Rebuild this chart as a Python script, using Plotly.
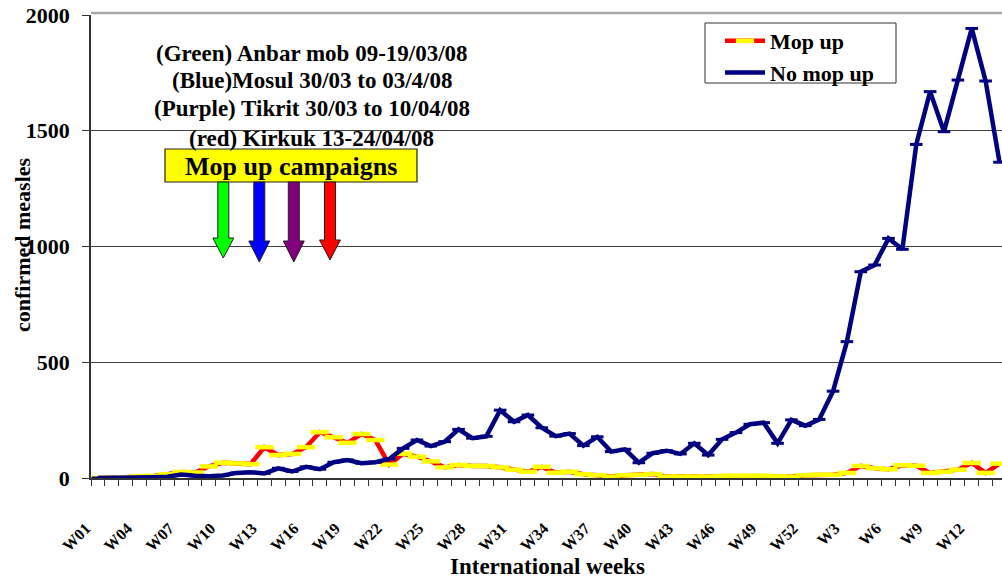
import plotly.graph_objects as go

weeks = ["W01", "W02", "W03", "W04", "W05", "W06", "W07", "W08", "W09", "W10",
         "W11", "W12", "W13", "W14", "W15", "W16", "W17", "W18", "W19", "W20",
         "W21", "W22", "W23", "W24", "W25", "W26", "W27", "W28", "W29", "W30",
         "W31", "W32", "W33", "W34", "W35", "W36", "W37", "W38", "W39", "W40",
         "W41", "W42", "W43", "W44", "W45", "W46", "W47", "W48", "W49", "W50",
         "W51", "W52", "W1", "W2", "W3", "W4", "W5", "W6", "W7", "W8",
         "W9", "W10", "W11", "W12", "W13", "W14"]

mop_up = [0, 1, 3, 8, 9, 16, 26, 24, 50, 66,
          63, 60, 133, 99, 104, 133, 198, 176, 152, 190,
          164, 58, 105, 92, 72, 46, 56, 52, 52, 46,
          36, 27, 48, 23, 27, 16, 12, 6, 12, 14,
          17, 6, 6, 6, 6, 9, 10, 10, 10, 7,
          6, 12, 14, 14, 22, 52, 42, 38, 55, 53,
          22, 27, 36, 65, 22, 62]

no_mop_up = [0, 0, 1, 2, 3, 5, 15, 10, 8, 11,
             22, 25, 20, 42, 28, 48, 38, 68, 78, 64,
             68, 82, 128, 164, 138, 157, 210, 172, 180, 293,
             243, 272, 217, 181, 192, 140, 178, 114, 124, 66,
             107, 118, 104, 150, 99, 167, 196, 232, 239, 150,
             251, 226, 253, 375, 589, 891, 920, 1035, 988, 1441,
             1669, 1496, 1719, 1942, 1715, 1364]

y_ticks = [0, 500, 1000, 1500, 2000]

campaign_lines = ["(Green) Anbar mob 09-19/03/08",
                  "(Blue)Mosul 30/03 to 03/4/08",
                  "(Purple) Tikrit 30/03 to 10/04/08",
                  "(red) Kirkuk 13-24/04/08"]

FONT = "Liberation Serif, Times New Roman, serif"
W, H = 1002, 579
L, R, T, B = 91, 1002, 15, 478
PX_PER_CAT = 13.87


def px(x):
    return (x - L) / (R - L)


def py(y):
    return (B - y) / (B - T)


idx = list(range(len(weeks)))

fig = go.Figure()
fig.add_trace(go.Scatter(
    x=idx, y=mop_up, name="Mop up", mode="lines+markers",
    line=dict(color="#FF0000", width=4.5),
    marker=dict(symbol="line-ew", size=13, color="#FFFF00",
                line=dict(color="#FFFF00", width=4.5)),
    text=weeks, hovertemplate="%{text}: %{y}<extra>Mop up</extra>",
))
fig.add_trace(go.Scatter(
    x=idx, y=no_mop_up, name="No mop up", mode="lines+markers",
    line=dict(color="#000080", width=4.5),
    marker=dict(symbol="line-ew", size=9, color="#000080",
                line=dict(color="#000080", width=3)),
    text=weeks, hovertemplate="%{text}: %{y}<extra>No mop up</extra>",
))

x_max = -0.5 + (R - L) / PX_PER_CAT

fig.update_xaxes(
    type="linear", range=[-0.5, x_max],
    tickmode="array", tickvals=idx[::3], ticktext=weeks[::3],
    tickangle=-45, ticks="", ticklabelstandoff=33, ticklabelshift=-12,
    tickfont=dict(family=FONT, size=16, color="black", weight="bold"),
    showline=True, linecolor="#333333", linewidth=1.5,
    showgrid=False, zeroline=False,
    minor=dict(tickmode="array", tickvals=[i - 0.5 for i in idx] + [idx[-1] + 0.5],
               ticks="outside", ticklen=6, tickwidth=1, tickcolor="#333333",
               showgrid=False),
)
fig.update_yaxes(
    range=[0, 2000], tickmode="array", tickvals=y_ticks,
    ticks="outside", ticklen=7, tickwidth=1, tickcolor="#333333",
    ticklabelstandoff=8,
    tickfont=dict(family=FONT, size=22, color="black", weight="bold"),
    showline=True, linecolor="#333333", linewidth=1.5,
    showgrid=True, gridcolor="#404040", gridwidth=1, zeroline=False,
)

annotations = []
for text, yy in zip(campaign_lines, [53, 81, 109, 138]):
    annotations.append(dict(
        xref="paper", yref="paper", x=px(311.7), y=py(yy), text=text,
        showarrow=False, xanchor="center", yanchor="middle",
        font=dict(family=FONT, size=23, color="black", weight="bold")))
annotations.append(dict(
    xref="paper", yref="paper", x=px(290.8), y=py(166), text="Mop up campaigns",
    showarrow=False, xanchor="center", yanchor="middle",
    font=dict(family=FONT, size=26, color="black", weight="bold")))
annotations.append(dict(
    xref="paper", yref="paper", x=px(22), y=py(245), text="confirmed measles",
    textangle=-90, showarrow=False, xanchor="center", yanchor="middle",
    font=dict(family=FONT, size=22, color="black", weight="bold")))
annotations.append(dict(
    xref="paper", yref="paper", x=px(547.5), y=py(566), text="International weeks",
    showarrow=False, xanchor="center", yanchor="middle",
    font=dict(family=FONT, size=23, color="black", weight="bold")))

shapes = [
    dict(type="line", xref="paper", yref="paper", x0=0, x1=1,
         y0=py(13), y1=py(13), line=dict(color="#A8A8A8", width=2.5)),
    dict(type="rect", xref="paper", yref="paper",
         x0=px(165), x1=px(417), y0=py(182), y1=py(149),
         fillcolor="#FFFF00", line=dict(color="#222222", width=1.2), layer="above"),
    # legend frame
    dict(type="rect", xref="paper", yref="paper",
         x0=px(705), x1=px(896), y0=py(83), y1=py(23),
         fillcolor="white", line=dict(color="#333333", width=1), layer="above"),
]


def arrow_path(cx, neck, tip, top=182, hw=5.5, hh=10.5):
    pts = [(cx - hw, top), (cx + hw, top), (cx + hw, neck), (cx + hh, neck),
           (cx, tip), (cx - hh, neck), (cx - hw, neck)]
    return "M " + " L ".join(f"{px(x):.5f},{py(y):.5f}" for x, y in pts) + " Z"


for cx, neck, tip, col in [(223.3, 238, 258, "#00FF00"),
                           (259.3, 241, 262, "#0000FF"),
                           (293.8, 241, 262, "#800080"),
                           (330.0, 240, 260, "#FF0000")]:
    shapes.append(dict(type="path", xref="paper", yref="paper",
                       path=arrow_path(cx, neck, tip), fillcolor=col,
                       line=dict(color="#222222", width=1), layer="above"))

fig.update_layout(
    width=W, height=H,
    margin=dict(l=L, r=W - R, t=T, b=H - B, pad=0),
    paper_bgcolor="white", plot_bgcolor="white",
    showlegend=True,
    legend=dict(x=px(720), y=py(20), xanchor="left", yanchor="top",
                bgcolor="rgba(0,0,0,0)", borderwidth=0,
                font=dict(family=FONT, size=22, color="black", weight="bold"),
                tracegroupgap=0, itemwidth=40),
    annotations=annotations, shapes=shapes,
    font=dict(family=FONT, color="black"),
)

fig.write_html("out.html",
               config={"displayModeBar": False},
               post_script="document.body.style.margin='0px';"
                           "document.body.style.overflow='hidden';")
